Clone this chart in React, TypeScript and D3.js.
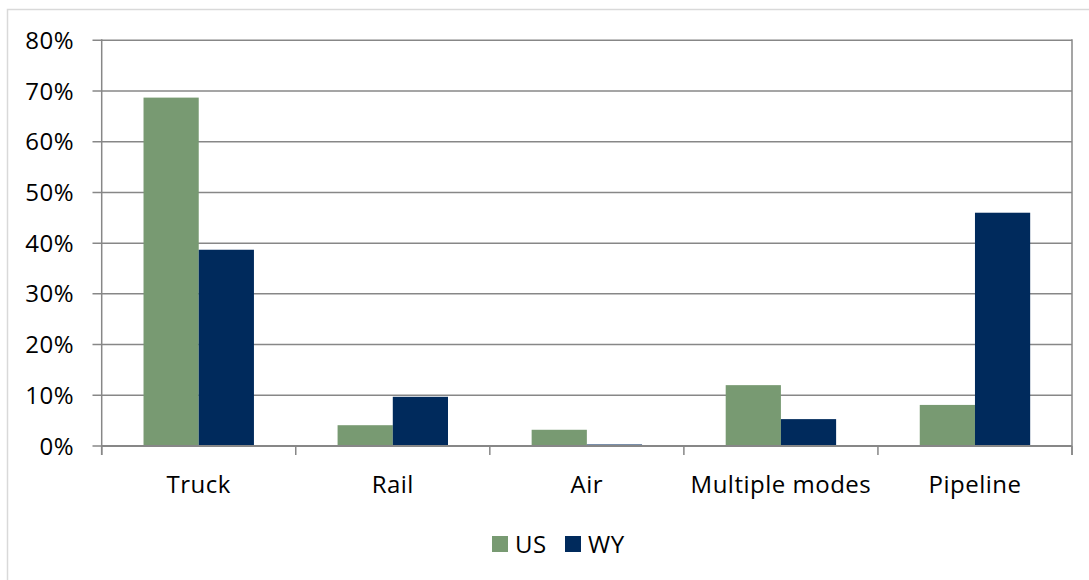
import React from "react";
import * as d3 from "d3";

// Share of freight by transport mode
const categories = ["Truck", "Rail", "Air", "Multiple modes", "Pipeline"];
const seriesNames = ["US", "WY"];
const usValues = [68.7, 4.1, 3.2, 12.0, 8.1];
const wyValues = [38.7, 9.7, 0.3, 5.3, 46.0];
const yTicks = [0, 10, 20, 30, 40, 50, 60, 70, 80];
const colors = ["#789A72", "#002A5C"];

const W = 1089;
const H = 580;
const left = 101.7;
const right = 1072;
const top = 40.3;
const bottom = 446;
const FONT = "'Open Sans', 'Noto Sans', sans-serif";
const FS = 24;
const LS = 0.5;
const GRID = "#878787";

export default function App() {
  const x = d3
    .scaleBand<string>()
    .domain(categories)
    .range([left, right])
    .paddingInner(0.431)
    .paddingOuter(0.2155);
  const step = x.step();
  const xs = d3.scaleBand<string>().domain(seriesNames).range([0, x.bandwidth()]).padding(0);
  const y = d3.scaleLinear().domain([0, 80]).range([bottom, top]);
  const series = [usValues, wyValues];

  const boundaries = d3.range(categories.length + 1).map((i) => left + i * step);

  return (
    <svg
      width={W}
      height={H}
      style={{ position: "absolute", left: 0, top: 0, background: "#fff" }}
      fontFamily={FONT}
    >
      <rect x={7.5} y={9.5} width={W + 20} height={H + 20} fill="#fff" stroke="#d9d9d9" strokeWidth={1.5} />

      {/* gridlines and y labels */}
      {yTicks.map((t) => (
        <g key={t}>
          <line x1={92.5} x2={right} y1={y(t)} y2={y(t)} stroke={GRID} strokeWidth={1.5} />
          <text x={74} y={y(t) + 8.5} textAnchor="end" fontSize={FS} letterSpacing={LS} fill="#000">
            {t}%
          </text>
        </g>
      ))}

      {/* bars */}
      {categories.map((c, i) => (
        <g key={c}>
          {seriesNames.map((s, j) => (
            <rect
              key={s}
              x={(x(c) as number) + (xs(s) as number)}
              y={y(series[j][i])}
              width={xs.bandwidth()}
              height={bottom - y(series[j][i])}
              fill={colors[j]}
            />
          ))}
        </g>
      ))}

      {/* axes */}
      <line x1={left} x2={left} y1={top - 1} y2={bottom + 9} stroke={GRID} strokeWidth={1.5} />
      <line x1={right} x2={right} y1={top - 1} y2={bottom + 9} stroke={GRID} strokeWidth={1.5} />
      <line x1={left} x2={right} y1={bottom} y2={bottom} stroke={GRID} strokeWidth={2} />
      {boundaries.map((bx, i) => (
        <line key={i} x1={bx} x2={bx} y1={bottom} y2={bottom + 9} stroke={GRID} strokeWidth={1.5} />
      ))}

      {/* category labels */}
      {categories.map((c) => (
        <text
          key={c}
          x={(x(c) as number) + x.bandwidth() / 2}
          y={493}
          textAnchor="middle"
          fontSize={FS}
          letterSpacing={LS}
          fill="#000"
        >
          {c}
        </text>
      ))}

      {/* legend */}
      {seriesNames.map((s, j) => {
        const lx = j === 0 ? 492 : 565;
        return (
          <g key={s}>
            <rect x={lx} y={536} width={16} height={16} fill={colors[j]} />
            <text x={lx + 23} y={552.5} fontSize={FS} letterSpacing={LS} fill="#000">
              {s}
            </text>
          </g>
        );
      })}
    </svg>
  );
}
